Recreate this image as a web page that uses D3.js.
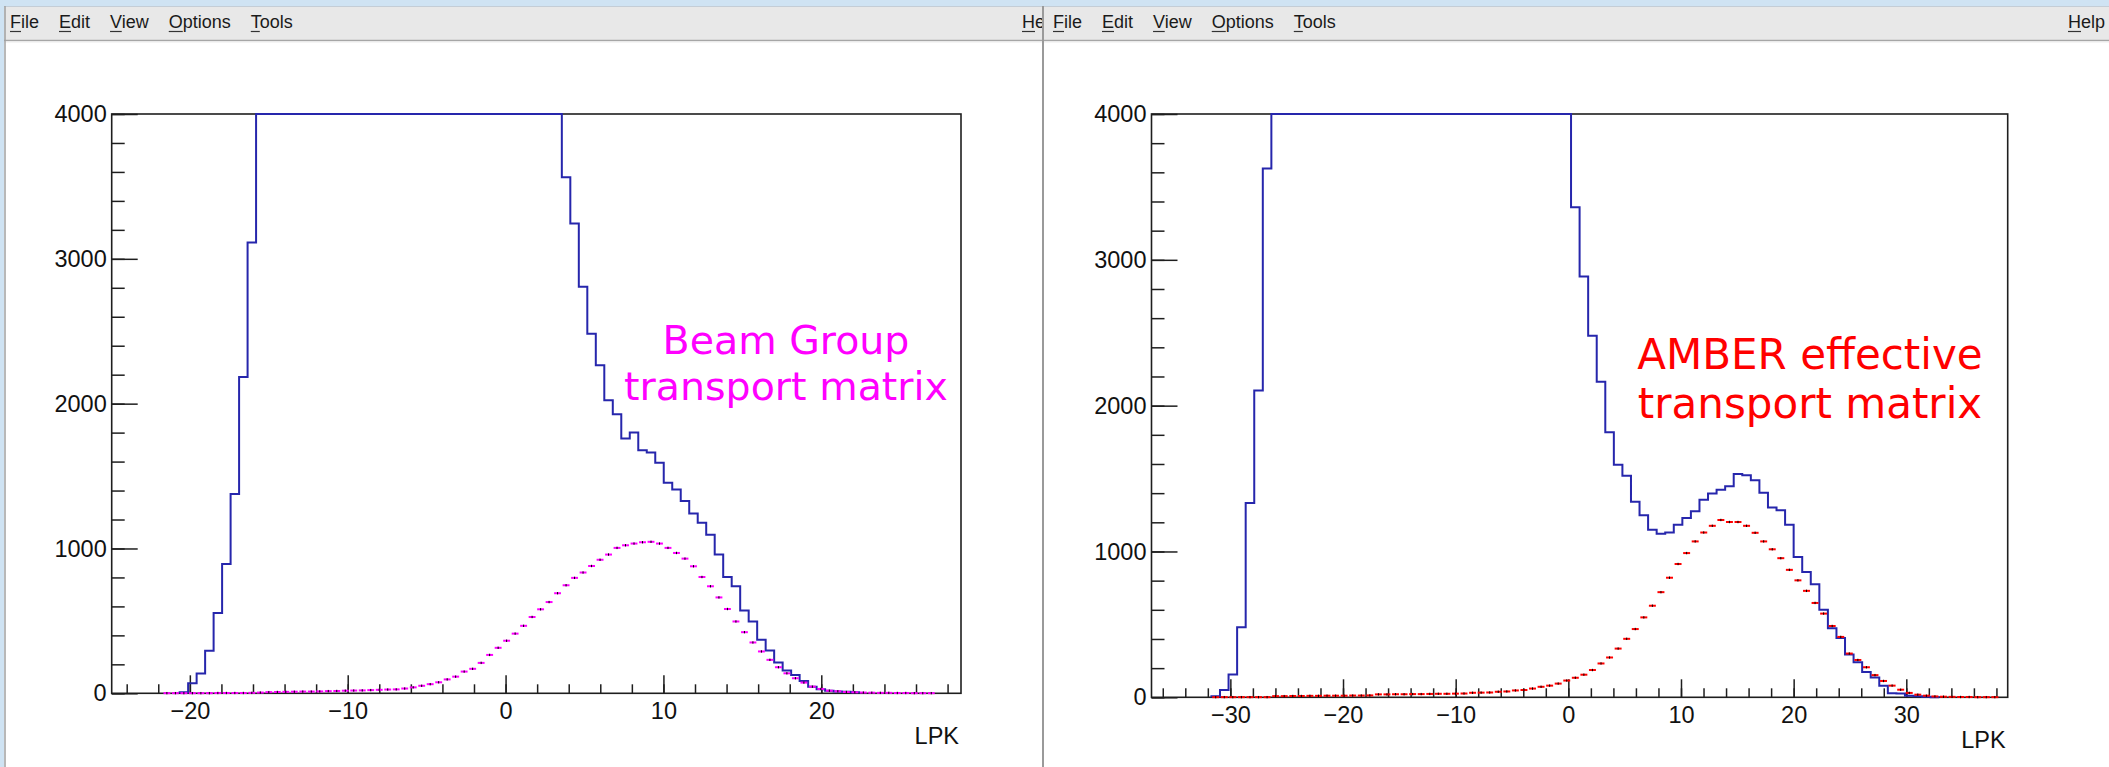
<!DOCTYPE html>
<html>
<head>
<meta charset="utf-8">
<script src="https://cdn.jsdelivr.net/npm/d3@7"></script>
<style>
  body { margin: 0; background: #fff; }
  svg { display: block; }
</style>
</head>
<body>
<div id="chart"></div>
<script>
// Values (100 bins each, counts per bin)
const menuItems = ["File", "Edit", "View", "Options", "Tools"];
const helpItem = "Help";
const helpCut = "He"; // left window's Help is hidden behind the right window
const xTitle = "LPK";
const yTicks = [0, 1000, 2000, 3000, 4000];
const yMax = 4000;

// left canvas
const leftRange = [-24.95, 28.85];
const leftXTicks = [-20, -10, 0, 10, 20];
const leftBlue = [
  0, 0, 0, 0, 0, 0, 0, 0,
  8, 70, 137, 293, 555, 893, 1376, 2184, 3113,
  4000, 4000, 4000, 4000, 4000, 4000, 4000, 4000, 4000, 4000, 4000, 4000,
  4000, 4000, 4000, 4000, 4000, 4000, 4000, 4000, 4000, 4000, 4000, 4000,
  4000, 4000, 4000, 4000, 4000, 4000, 4000, 4000, 4000, 4000, 4000, 4000,
  3563, 3244, 2807, 2482, 2266, 2024, 1927, 1759, 1800, 1678,
  1662, 1592, 1454, 1408, 1327, 1242, 1177, 1094, 958, 803,
  739, 572, 496, 369, 295, 212, 157, 127, 85, 46,
  28, 18, 12, 10, 7,
  0, 0, 0, 0, 0, 0, 0, 0, 0, 0, 0, 0
];
const leftMagenta = [
  0, 0, 0, 0, 0, 0,
  1, 1, 1, 1, 1, 1, 2, 2, 2, 2, 3,
  5, 8, 9, 10, 11, 12, 12, 13, 15, 16,
  18, 19, 20, 22, 24, 26, 27, 33, 41, 52,
  63, 76, 96, 115, 150, 169, 210, 265, 314, 363,
  412, 466, 527, 580, 630, 691, 746, 797, 834, 879,
  922, 958, 1004, 1022, 1034, 1043, 1046, 1034, 1004, 969,
  930, 877, 803, 739, 662, 582, 496, 422, 351, 289,
  231, 180, 138, 104, 74, 46, 30, 18, 14, 9,
  7, 5, 4, 3, 3, 2, 2, 1, 1, 1, 0, 0, 0
];
const leftLabel = ["Beam Group", "transport matrix"];

// right canvas
const rightRange = [-37, 39];
const rightXTicks = [-30, -20, -10, 0, 10, 20, 30];
const rightBlue = [
  0, 0, 0, 0, 0, 0, 0,
  8, 50, 157, 480, 1332, 2104, 3627,
  4000, 4000, 4000, 4000, 4000, 4000, 4000, 4000, 4000, 4000, 4000, 4000,
  4000, 4000, 4000, 4000, 4000, 4000, 4000, 4000, 4000, 4000, 4000, 4000,
  4000, 4000, 4000, 4000, 4000, 4000, 4000, 4000, 4000, 4000, 4000,
  3361, 2886, 2480, 2164, 1817, 1595, 1520, 1341, 1248, 1149,
  1122, 1130, 1184, 1229, 1275, 1355, 1397, 1424, 1448, 1531,
  1523, 1488, 1403, 1301, 1283, 1184, 962, 860, 775, 601,
  473, 406, 294, 240, 174, 135, 80, 28, 26, 10,
  7, 3, 1,
  0, 0, 0, 0, 0, 0, 0, 0
];
const rightRed = [
  0, 0, 0, 0, 0, 0, 0,
  1, 1, 1, 1, 1, 1, 1,
  8, 8, 9, 9, 10, 10, 11, 11, 11, 12,
  12, 13, 20, 20, 21, 21, 22, 22, 23, 24,
  24, 25, 26, 31, 32, 33, 38, 40, 47, 50,
  60, 72, 80, 94, 115, 134, 155, 187, 232, 273,
  334, 401, 468, 548, 628, 721, 820, 914, 989, 1069,
  1130, 1176, 1216, 1202, 1202, 1176, 1128, 1069, 1015, 954,
  874, 802, 730, 647, 574, 489, 414, 300, 256, 206,
  152, 112, 80, 52, 30, 18, 11, 6, 4, 3,
  2, 2, 1, 1, 1, 0
];
const rightLabel = ["AMBER effective", "transport matrix"];

const W = 2109, H = 767;
const tickFont = "'Liberation Sans', Arial, Helvetica, sans-serif";

const svg = d3.select("#chart").append("svg")
  .attr("width", W).attr("height", H);

// ---------- window chrome ----------
svg.append("rect").attr("width", W).attr("height", H).attr("fill", "#fff");

function drawWindow(x0, x1, helpAt, helpText) {
  const g = svg.append("g");
  g.append("rect").attr("x", x0).attr("y", 6).attr("width", x1 - x0).attr("height", 34)
    .attr("fill", "#e8e8e8");
  g.append("line").attr("x1", x0).attr("x2", x1).attr("y1", 6.5).attr("y2", 6.5)
    .attr("stroke", "#c4cdd6");
  g.append("line").attr("x1", x0).attr("x2", x1).attr("y1", 40.5).attr("y2", 40.5)
    .attr("stroke", "#a6a6a6").attr("stroke-width", 1.4);
  g.append("line").attr("x1", x0).attr("x2", x1).attr("y1", 42).attr("y2", 42)
    .attr("stroke", "#ececec");

  let cx = x0 + 10;
  const items = menuItems.map((m) => ({ name: m }));
  items.push({ name: helpText, at: helpAt });
  items.forEach((it) => {
    const tx = it.at != null ? it.at : cx;
    const t = g.append("text")
      .attr("x", tx).attr("y", 28)
      .attr("font-family", tickFont).attr("font-size", 18)
      .attr("fill", "#1a1a1a").text(it.name);
    const node = t.node();
    const w = node.getComputedTextLength();
    const w1 = node.getSubStringLength(0, 1);
    g.append("line").attr("x1", tx).attr("x2", tx + w1)
      .attr("y1", 31.5).attr("y2", 31.5).attr("stroke", "#333").attr("stroke-width", 1.2);
    if (it.at == null) cx += w + 20;
  });
  return g;
}

// title-bar strip
svg.append("rect").attr("width", W).attr("height", 6).attr("fill", "#cfe3f3");

const clipL = svg.append("clipPath").attr("id", "clipL");
clipL.append("rect").attr("x", 0).attr("y", 0).attr("width", 1042).attr("height", H);
const leftWin = drawWindow(0, 1043, 1022, helpCut);
leftWin.attr("clip-path", "url(#clipL)");
drawWindow(1043, W, 2068, helpItem);

// window borders
svg.append("rect").attr("x", 0).attr("y", 0).attr("width", 4).attr("height", H).attr("fill", "#cfe3f3");
svg.append("line").attr("x1", 5).attr("x2", 5).attr("y1", 6).attr("y2", H)
  .attr("stroke", "#a0a0a0").attr("stroke-width", 1.5);
svg.append("line").attr("x1", 1043).attr("x2", 1043).attr("y1", 6).attr("y2", H)
  .attr("stroke", "#9a9a9a").attr("stroke-width", 2);

// ---------- histogram panels ----------
function drawPanel(p) {
  const g = svg.append("g");
  const nb = p.blue.length;
  const bw = (p.range[1] - p.range[0]) / nb;

  const x = d3.scaleLinear().domain(p.range).range([p.left, p.right]);
  const y = d3.scaleLinear().domain([0, yMax]).range([p.bottom, p.top]).clamp(true);

  // frame
  g.append("rect")
    .attr("x", p.left).attr("y", p.top)
    .attr("width", p.right - p.left).attr("height", p.bottom - p.top)
    .attr("fill", "none").attr("stroke", "#1e1e1e").attr("stroke-width", 1.6);

  // ticks point into the frame, ROOT style
  const minorX = d3.range(Math.ceil(p.range[0] / 2) * 2, p.range[1], 2);
  const xMinor = g.append("g").attr("transform", `translate(0,${p.bottom})`)
    .call(d3.axisBottom(x).tickValues(minorX).tickSize(-9).tickFormat(""));
  const xMajor = g.append("g").attr("transform", `translate(0,${p.bottom})`)
    .call(d3.axisBottom(x).tickValues(p.xTicks).tickSize(-18).tickPadding(9)
      .tickFormat(d3.format("d")));

  const minorY = d3.range(0, yMax + 1, 200);
  const yMinor = g.append("g").attr("transform", `translate(${p.left},0)`)
    .call(d3.axisLeft(y).tickValues(minorY).tickSize(-13).tickFormat(""));
  const yMajor = g.append("g").attr("transform", `translate(${p.left},0)`)
    .call(d3.axisLeft(y).tickValues(yTicks).tickSize(-26).tickPadding(5)
      .tickFormat(d3.format("d")));

  [xMinor, xMajor, yMinor, yMajor].forEach((a) => {
    a.select(".domain").remove();
    a.selectAll("line").attr("stroke", "#1e1e1e").attr("stroke-width", 1.5);
    a.selectAll("text").attr("font-family", tickFont).attr("font-size", 23.5)
      .attr("fill", "#111");
  });

  // axis title
  g.append("text").attr("x", p.right - 2).attr("y", p.bottom + 51)
    .attr("text-anchor", "end").attr("font-family", tickFont).attr("font-size", 23.5)
    .attr("fill", "#111").text(xTitle);

  // blue step histogram
  const first = p.blue.findIndex((v) => v > 0);
  let last = nb - 1;
  while (last > 0 && p.blue[last] <= 0) last--;
  const path = d3.path();
  path.moveTo(x(p.range[0] + first * bw), y(0));
  for (let i = first; i <= last; i++) {
    path.lineTo(x(p.range[0] + i * bw), y(p.blue[i]));
    path.lineTo(x(p.range[0] + (i + 1) * bw), y(p.blue[i]));
  }
  path.lineTo(x(p.range[0] + (last + 1) * bw), y(0));
  g.append("path").attr("d", path.toString())
    .attr("fill", "none").attr("stroke", "#2626ac").attr("stroke-width", 2);

  // points with horizontal error bars
  const pts = p.points.map((v, i) => ({ v, i })).filter((d) => d.v > 0);
  const pg = g.append("g");
  pg.selectAll("line.eb").data(pts).enter().append("line")
    .attr("class", "eb")
    .attr("x1", (d) => x(p.range[0] + d.i * bw) + 0.8)
    .attr("x2", (d) => x(p.range[0] + (d.i + 1) * bw) - 0.8)
    .attr("y1", (d) => y(d.v)).attr("y2", (d) => y(d.v))
    .attr("stroke", p.color).attr("stroke-width", 2);
  pg.selectAll("line.mk").data(pts).enter().append("line")
    .attr("class", "mk")
    .attr("x1", (d) => x(p.range[0] + (d.i + 0.5) * bw))
    .attr("x2", (d) => x(p.range[0] + (d.i + 0.5) * bw))
    .attr("y1", (d) => y(d.v) - 1.2).attr("y2", (d) => y(d.v) + 1.2)
    .attr("stroke", "#000").attr("stroke-width", 1);

  // annotation
  const lab = g.append("text").attr("text-anchor", "middle")
    .attr("font-family", "'DejaVu Sans', Verdana, sans-serif")
    .attr("font-size", p.labelSize).attr("fill", p.color);
  p.label.forEach((line, k) => {
    lab.append("tspan").attr("x", p.labelX).attr("y", p.labelY[k]).text(line);
  });
}

drawPanel({
  left: 111.7, right: 961, top: 114, bottom: 693.3,
  range: leftRange, xTicks: leftXTicks,
  blue: leftBlue, points: leftMagenta, color: "#ff00ff",
  label: leftLabel, labelX: 786, labelY: [354, 400], labelSize: 39.5
});

drawPanel({
  left: 1151.5, right: 2007.7, top: 114, bottom: 697.3,
  range: rightRange, xTicks: rightXTicks,
  blue: rightBlue, points: rightRed, color: "#ff0000",
  label: rightLabel, labelX: 1810, labelY: [369, 418], labelSize: 42
});
</script>
</body>
</html>
